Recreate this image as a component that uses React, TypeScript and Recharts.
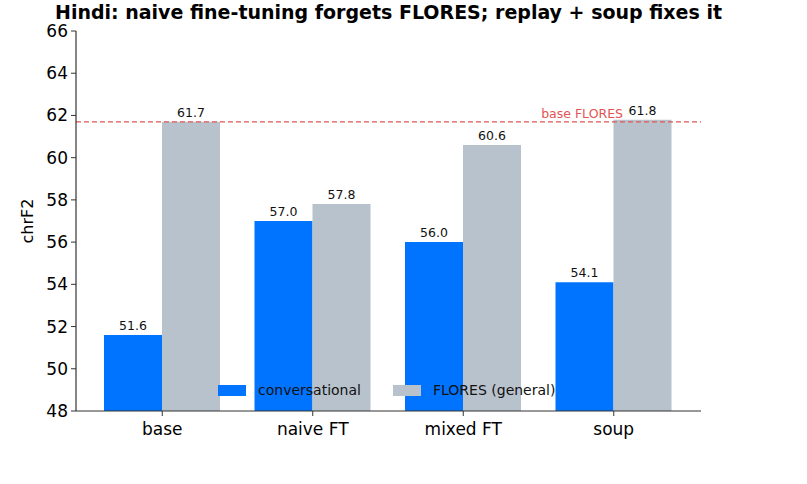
import { BarChart, Bar, XAxis, YAxis, ReferenceLine, LabelList } from 'recharts';

const categories = ['base', 'naive FT', 'mixed FT', 'soup'];
const conversational = [51.6, 57.0, 56.0, 54.1];
const flores = [61.7, 57.8, 60.6, 61.8];
const yTicks = [48, 50, 52, 54, 56, 58, 60, 62, 64, 66];
const baseFlores = 61.7;

const data = categories.map((name, i) => ({
  name,
  conversational: conversational[i],
  flores: flores[i],
}));

const FONT = 'DejaVu Sans, sans-serif';
const BLUE = '#0074ff';
const GREY = '#b8c2cc';

// red label sitting above the dashed reference line, right-aligned near the soup bar
const RefLabel = ({ viewBox }: any) => {
  const { x, y, width } = viewBox;
  return (
    <text x={x + width - 78} y={y - 4} textAnchor="end" fill="#e05555" fontSize={12.5} fontFamily={FONT}>
      base FLORES
    </text>
  );
};

const ValueLabel = ({ x, y, width, value }: any) => (
  <text x={x + width / 2} y={y - 5} textAnchor="middle" fill="#111" fontSize={12.5} fontFamily={FONT}>
    {Number(value).toFixed(1)}
  </text>
);

const legendItems = [
  { label: 'conversational', color: BLUE, left: 218 },
  { label: 'FLORES (general)', color: GREY, left: 393 },
];

export default function App() {
  return (
    <div style={{ position: 'absolute', left: 0, top: 0, width: 807, height: 484, background: '#fff' }}>
      <div
        style={{
          position: 'absolute',
          top: 1,
          left: 0,
          width: 777,
          textAlign: 'center',
          fontFamily: FONT,
          fontWeight: 'bold',
          fontSize: 19,
          lineHeight: '22px',
          color: '#000',
          whiteSpace: 'nowrap',
        }}
      >
        Hindi: naive fine-tuning forgets FLORES; replay + soup fixes it
      </div>
      <BarChart
        width={807}
        height={484}
        data={data}
        margin={{ top: 31, right: 106, bottom: 43, left: 0 }}
        barGap={0}
        barSize={58}
      >
        <XAxis
          dataKey="name"
          padding={{ left: 11, right: 12 }}
          tick={{ fill: '#000', fontSize: 17, fontFamily: FONT }}
          tickLine={{ stroke: '#333' }}
          axisLine={{ stroke: '#333', strokeWidth: 1.2 }}
          tickSize={5}
          tickMargin={7}
        />
        <YAxis
          domain={[48, 66]}
          ticks={yTicks}
          allowDataOverflow
          width={76}
          tick={{ fill: '#000', fontSize: 17, fontFamily: FONT }}
          tickLine={{ stroke: '#333' }}
          axisLine={{ stroke: '#333', strokeWidth: 1.2 }}
          tickSize={5}
          tickMargin={3}
          label={{
            value: 'chrF2',
            angle: -90,
            position: 'insideLeft',
            offset: 27,
            style: { fill: '#000', fontSize: 16, fontFamily: FONT, textAnchor: 'middle' },
          }}
        />
        <Bar dataKey="conversational" name="conversational" fill={BLUE} isAnimationActive={false}>
          <LabelList dataKey="conversational" content={<ValueLabel />} />
        </Bar>
        <Bar dataKey="flores" name="FLORES (general)" fill={GREY} isAnimationActive={false}>
          <LabelList dataKey="flores" content={<ValueLabel />} />
        </Bar>
        <ReferenceLine
          y={baseFlores}
          stroke="#e05555"
          strokeDasharray="5 3"
          strokeWidth={1.2}
          label={<RefLabel />}
        />
      </BarChart>
      {legendItems.map((item) => (
        <div
          key={item.label}
          style={{
            position: 'absolute',
            top: 382,
            left: item.left,
            display: 'flex',
            alignItems: 'center',
            fontFamily: FONT,
            fontSize: 14,
            color: '#111',
            whiteSpace: 'nowrap',
          }}
        >
          <span style={{ display: 'inline-block', width: 28, height: 11, background: item.color, marginRight: 12 }} />
          {item.label}
        </div>
      ))}
    </div>
  );
}
